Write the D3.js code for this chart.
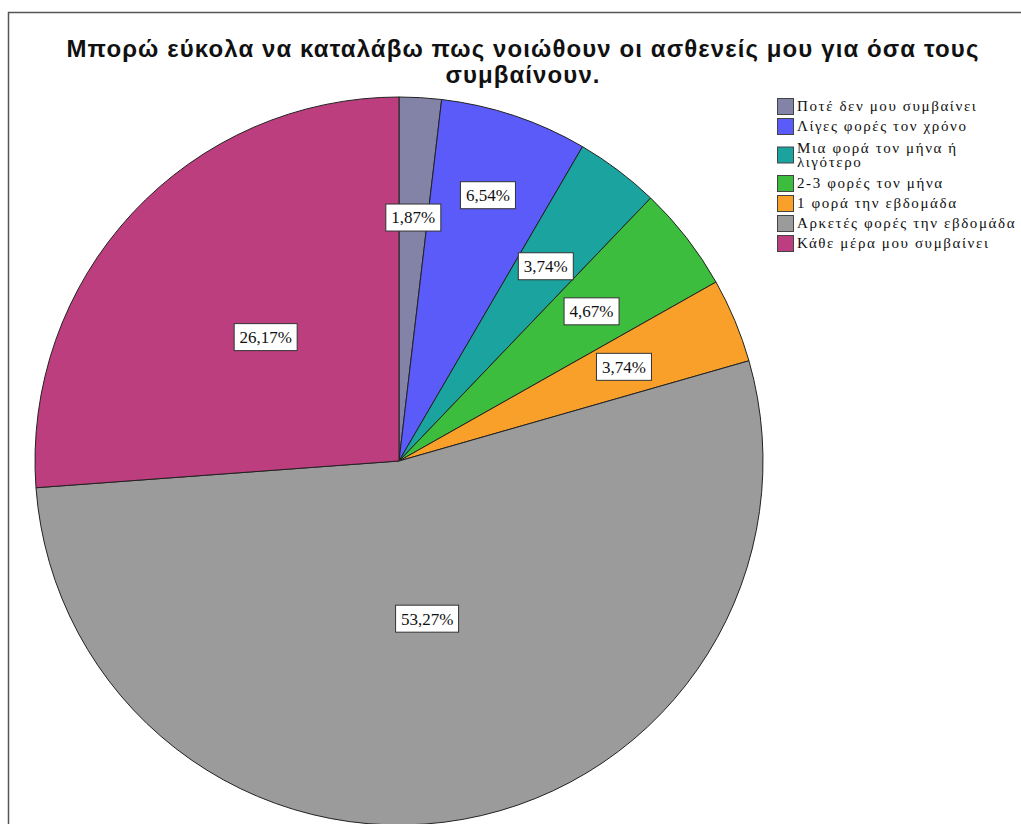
<!DOCTYPE html>
<head>
    <meta charset="utf-8">
    <title>Pie chart</title>
    <style>
        body { margin: 0; background: #fff; }
    </style>
</head>

<script src="https://d3js.org/d3.v7.min.js"></script>

<div id="my_dataviz"></div>

<script>

    // data
    var title = ["Μπορώ εύκολα να καταλάβω πως νοιώθουν οι ασθενείς μου για όσα τους",
                 "συμβαίνουν."];
    var categories = ["Ποτέ δεν μου συμβαίνει",
                      "Λίγες φορές τον χρόνο",
                      "Μια φορά τον μήνα ή\nλιγότερο",
                      "2-3 φορές τον μήνα",
                      "1 φορά την εβδομάδα",
                      "Αρκετές φορές την εβδομάδα",
                      "Κάθε μέρα μου συμβαίνει"];
    var percents = [1.87, 6.54, 3.74, 4.67, 3.74, 53.27, 26.17];
    var percentLabels = ["1,87%", "6,54%", "3,74%", "4,67%", "3,74%", "53,27%", "26,17%"];

    var colors = ["#8383a8", "#5b5bf9", "#1ba3a0", "#3dbd3d", "#f9a02a", "#9b9b9b", "#bc3e7e"];
    // how far out each percent label sits (fraction of radius)
    var labelRadius = [0.67, 0.77, 0.67, 0.67, 0.67, 0.44, 0.50];

    var width = 1021, height = 824;
    var cx = 399, cy = 461, r = 364;

    var svg = d3.select("#my_dataviz")
      .append("svg")
      .attr("width", width)
      .attr("height", height);

    // frame lines (top and left)
    svg.append("line")
        .attr("x1", 8).attr("y1", 12.5).attr("x2", width).attr("y2", 12.5)
        .attr("stroke", "#555").attr("stroke-width", 1.5);
    svg.append("line")
        .attr("x1", 8.5).attr("y1", 12).attr("x2", 8.5).attr("y2", height)
        .attr("stroke", "#555").attr("stroke-width", 1.5);

    // title
    svg.append("g")
      .selectAll("text")
      .data(title)
      .enter()
      .append("text")
        .attr("x", 523)
        .attr("y", function (d, i) { return 57 + i * 26; })
        .attr("text-anchor", "middle")
        .style("font-family", "'Liberation Sans', Arial, sans-serif")
        .style("font-weight", "bold")
        .style("font-size", "24px")
        .style("letter-spacing", "1.1px")
        .style("fill", "#111")
        .text(function (d) { return d; });

    var pie = d3.pie()
      .sort(null)
      .value(function (d) { return d; });

    var arcs = pie(percents);

    var arc = d3.arc()
      .innerRadius(0)
      .outerRadius(r);

    var g = svg.append("g")
      .attr("transform", "translate(" + cx + "," + cy + ")");

    g.selectAll("path")
      .data(arcs)
      .enter()
      .append("path")
        .attr("d", arc)
        .style("fill", function (d, i) { return colors[i]; })
        .style("stroke", "#222")
        .style("stroke-width", 1);

    // percent labels in white boxes
    var labels = g.selectAll(".lbl")
      .data(arcs)
      .enter()
      .append("g")
        .attr("class", "lbl")
        .attr("transform", function (d, i) {
            var a = (d.startAngle + d.endAngle) / 2;
            var rr = r * labelRadius[i];
            return "translate(" + (Math.sin(a) * rr) + "," + (-Math.cos(a) * rr) + ")";
        });

    labels.append("text")
        .attr("text-anchor", "middle")
        .attr("dy", "0.35em")
        .style("font-family", "'Liberation Serif', 'Times New Roman', serif")
        .style("font-size", "17px")
        .style("fill", "#111")
        .text(function (d, i) { return percentLabels[i]; });

    labels.each(function () {
        var t = d3.select(this).select("text");
        var b = t.node().getBBox();
        d3.select(this).insert("rect", "text")
            .attr("x", Math.round(b.x) - 5.5)
            .attr("y", -13.5)
            .attr("width", Math.round(b.width) + 11)
            .attr("height", 27)
            .style("fill", "#fff")
            .style("stroke", "#333")
            .style("stroke-width", 1);
    });

    // legend
    var legend = svg.append("g")
      .attr("transform", "translate(777,96)");

    var yPos = 0;
    categories.forEach(function (c, i) {
        var lines = c.split("\n");
        var h = 20 + 17 * (lines.length - 1);
        var mid = yPos + h / 2;
        var item = legend.append("g");
        item.append("rect")
            .attr("x", 0.5)
            .attr("y", mid - 8 + 0.5)
            .attr("width", 16)
            .attr("height", 16)
            .style("fill", colors[i])
            .style("stroke", "#444")
            .style("stroke-width", 1);
        lines.forEach(function (l, j) {
            item.append("text")
                .attr("x", 20)
                .attr("y", mid + (j - (lines.length - 1) / 2) * 14)
                .attr("dy", "0.35em")
                .style("font-family", "'Liberation Serif', 'Times New Roman', serif")
                .style("font-size", "15px")
                .style("letter-spacing", "1.6px")
                .style("fill", "#111")
                .text(l);
        });
        yPos += h;
    });

</script>
